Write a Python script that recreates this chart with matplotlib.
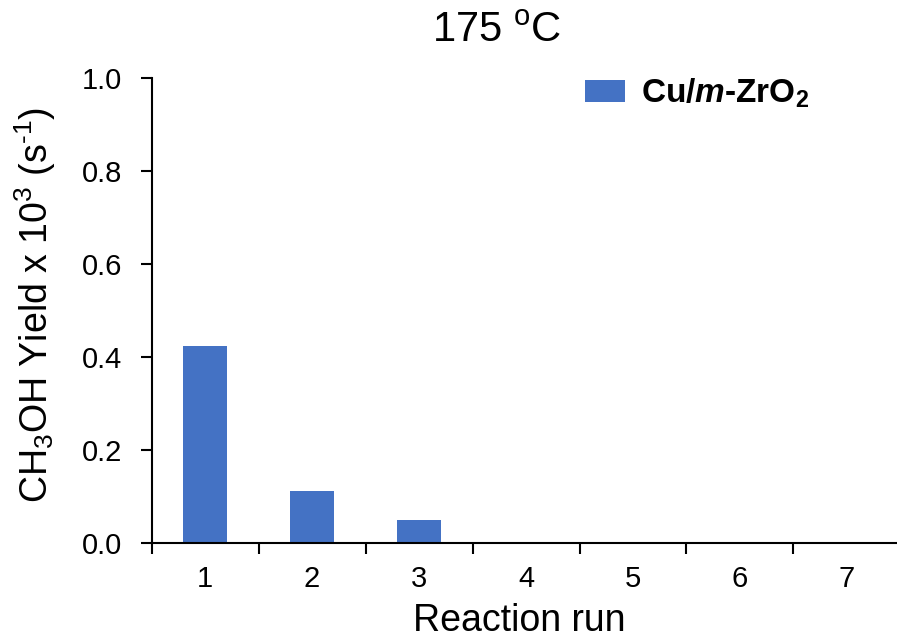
import matplotlib.pyplot as plt

# CH3OH yield per reaction run at 175 C
runs = ['1', '2', '3', '4', '5', '6', '7']
yield_vals = [0.423, 0.111, 0.049, 0.0, 0.0, 0.0, 0.0]
yticks = [0.0, 0.2, 0.4, 0.6, 0.8, 1.0]

plt.rcParams['font.family'] = 'Liberation Sans'
plt.rcParams['mathtext.fontset'] = 'custom'
plt.rcParams['mathtext.rm'] = 'Liberation Sans'
plt.rcParams['mathtext.it'] = 'Liberation Sans:italic:bold'
plt.rcParams['mathtext.bf'] = 'Liberation Sans:bold'

fig = plt.figure(figsize=(8.97, 6.4), dpi=100)
ax = fig.add_axes([0.1689, 0.152, 0.835, 0.726])

x = list(range(1, len(runs) + 1))
ax.bar(x, yield_vals, width=0.41, color='#4472C4',
       label=r'Cu/$\mathit{m}$-ZrO$_\mathbf{2}$')

ax.set_xlim(0.5, len(runs) + 0.5)
ax.set_ylim(0, 1.0)
ax.set_yticks(yticks)
ax.set_yticklabels(['%.1f' % v for v in yticks], fontsize=21)

# ticks between categories, labels at the centres
ax.set_xticks([i + 0.5 for i in range(len(runs) + 1)])
ax.set_xticklabels([])
ax.set_xticks(x, minor=True)
ax.set_xticklabels(runs, minor=True, fontsize=21)
ax.tick_params(axis='x', which='major', direction='out', length=8, width=1.5)
ax.tick_params(axis='x', which='minor', length=0, pad=16)
ax.tick_params(axis='y', direction='out', length=8, width=1.5, pad=13)

for s in ['top', 'right']:
    ax.spines[s].set_visible(False)
for s in ['left', 'bottom']:
    ax.spines[s].set_linewidth(1.5)

leg = ax.legend(loc='center left', bbox_to_anchor=(0.579, 0.968), frameon=False,
                prop={'size': 24, 'weight': 'bold'}, borderpad=0, borderaxespad=0,
                handlelength=1.2, handleheight=0.64, handletextpad=0.48)

fig.text(0.554, 0.952, r'175 $^\mathrm{o}$C', fontsize=30, ha='center', va='center')
fig.text(0.579, 0.014, 'Reaction run', fontsize=27, ha='center', va='baseline')
fig.text(0.039, 0.523, r'CH$_3$OH Yield x 10$^3$ (s$^{\text{-}1}$)', fontsize=27,
         rotation=90, ha='center', va='center')

plt.savefig('out.png', dpi=100)
